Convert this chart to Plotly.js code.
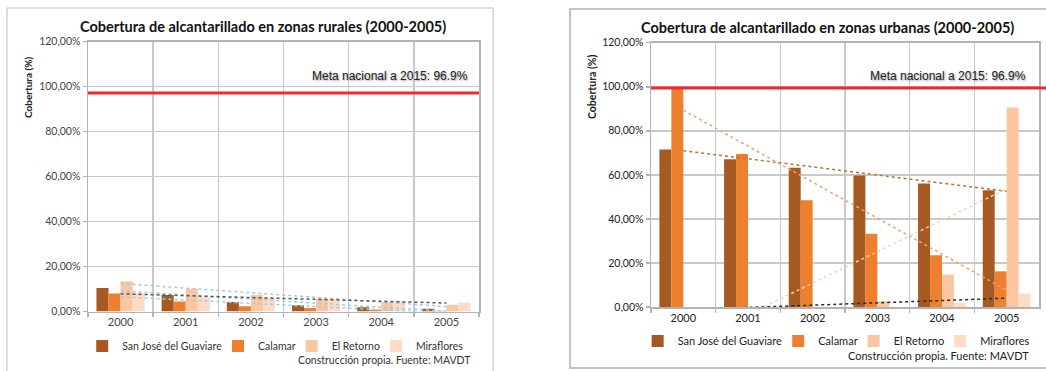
<!DOCTYPE html>
<html>
<head>
<meta charset="utf-8">
<script src="https://cdn.plot.ly/plotly-3.0.1.min.js"></script>
<style>
  html, body { margin: 0; padding: 0; background: #ffffff; }
  #chart { width: 1046px; height: 371px; }
</style>
</head>
<body>
<div id="chart"></div>
<script>
// ---------- data ----------
const years = ['2000', '2001', '2002', '2003', '2004', '2005'];
const seriesNames = ['San José del Guaviare', 'Calamar', 'El Retorno', 'Miraflores'];

// Rural coverage (%)
const ruralSanJose   = [10.4, 7.3, 4.2, 2.8, 1.9, 1.2];
const ruralCalamar   = [8.0, 4.5, 2.3, 1.6, 0.8, 0.3];
const ruralRetorno   = [13.5, 10.1, 7.4, 5.7, 4.2, 3.0];
const ruralMiraflores = [8.3, 6.5, 6.2, 5.5, 4.3, 4.0];

// Urban coverage (%)
const urbanSanJose   = [71.5, 67.1, 63.2, 59.7, 56.1, 53.0];
const urbanCalamar   = [100.0, 69.5, 48.5, 33.3, 23.5, 16.2];
const urbanRetorno   = [0, 0, 0, 2.6, 14.7, 90.6];
const urbanMiraflores = [0, 0, 0, 0, 2.0, 6.2];

// National target line (as drawn)
const metaRural = 97.2;
const metaUrbana = 99.4;
const metaLabel = 'Meta nacional a 2015: 96.9%';

const yTickVals = [0, 20, 40, 60, 80, 100, 120];
const yTickText = ['0,00%', '20,00%', '40,00%', '60,00%', '80,00%', '100,00%', '120,00%'];

const titleRural = 'Cobertura de alcantarillado en zonas rurales (2000-2005)';
const titleUrbana = 'Cobertura de alcantarillado en zonas urbanas (2000-2005)';
const yTitle = 'Cobertura (%)';
const sourceText = 'Construcción propia. Fuente: MAVDT';

// ---------- styles ----------
const barColors = ['#a65a22', '#ee7f2f', '#fcc6a0', '#fddcc6'];
const ruralTrendColors = ['#9fcbe0', '#9fcbe0', '#9fcbe0', '#555555'];
const urbanTrendColors = ['#b8703f', '#f3a06a', '#fcd0b0', '#2a2a2a'];
const W = 1046, H = 371;
const px = v => v / W;
const py = v => 1 - v / H;
const FONT = 'Lato, "Open Sans", sans-serif';

function linTrend(vals) {
  const n = vals.length;
  const xs = vals.map((_, i) => i);
  const mx = xs.reduce((a, b) => a + b, 0) / n;
  const my = vals.reduce((a, b) => a + b, 0) / n;
  let sxy = 0, sxx = 0;
  for (let i = 0; i < n; i++) { sxy += (xs[i] - mx) * (vals[i] - my); sxx += (xs[i] - mx) ** 2; }
  const b = sxy / sxx, a = my - b * mx;
  return xs.map(x => a + b * x);
}

const ruralSets = [ruralSanJose, ruralCalamar, ruralRetorno, ruralMiraflores];
const urbanSets = [urbanSanJose, urbanCalamar, urbanRetorno, urbanMiraflores];
const legendId = k => (k === 0 ? 'legend' : 'legend' + (k + 1));

const traces = [];
ruralSets.forEach((vals, i) => {
  traces.push({
    type: 'bar', x: years, y: vals, name: seriesNames[i],
    marker: { color: barColors[i] }, xaxis: 'x', yaxis: 'y',
    legend: legendId(i), hoverinfo: 'x+y+name'
  });
});
urbanSets.forEach((vals, i) => {
  traces.push({
    type: 'bar', x: years, y: vals, name: seriesNames[i],
    marker: { color: barColors[i] }, xaxis: 'x2', yaxis: 'y2',
    legend: legendId(i + 4), hoverinfo: 'x+y+name'
  });
});
ruralSets.forEach((vals, i) => {
  traces.push({
    type: 'scatter', mode: 'lines', x: years, y: linTrend(vals),
    line: { color: ruralTrendColors[i], width: 1.5, dash: 'dot' },
    xaxis: 'x', yaxis: 'y', showlegend: false, hoverinfo: 'skip'
  });
});
urbanSets.forEach((vals, i) => {
  traces.push({
    type: 'scatter', mode: 'lines', x: years, y: linTrend(vals),
    line: { color: urbanTrendColors[i], width: 1.5, dash: 'dot' },
    xaxis: 'x2', yaxis: 'y2', showlegend: false, hoverinfo: 'skip'
  });
});

const gridColor = '#c9c9c9';
const lineColor = '#b3b3b3';
function xAxis(domain, anchor, fontColor) {
  return {
    domain: domain, anchor: anchor, type: 'category', range: [-0.5, 5.5],
    tickson: 'boundaries', showgrid: true, gridcolor: gridColor, gridwidth: 1.5,
    showline: true, linecolor: lineColor, linewidth: 1.5, mirror: true,
    ticks: 'outside', ticklen: 4, tickcolor: lineColor, tickwidth: 1.5,
    tickfont: { family: FONT, size: 11, color: fontColor }, fixedrange: true
  };
}
function yAxis(domain, anchor, fontColor) {
  return {
    domain: domain, anchor: anchor, range: [0, 120],
    tickvals: yTickVals, ticktext: yTickText,
    showgrid: true, gridcolor: gridColor, gridwidth: 1.5, zeroline: false,
    showline: true, linecolor: lineColor, linewidth: 1.5, mirror: true,
    ticks: 'outside', ticklen: 4, tickcolor: lineColor, tickwidth: 1.5,
    tickfont: { family: FONT, size: 10.5, color: fontColor }, fixedrange: true
  };
}

const layout = {
  width: W, height: H,
  margin: { l: 0, r: 0, t: 0, b: 0, autoexpand: false },
  paper_bgcolor: '#ffffff', plot_bgcolor: '#ffffff',
  showlegend: true,
  barmode: 'group', bargap: 0.26, bargroupgap: 0,
  xaxis: xAxis([px(88), px(479)], 'y', '#444'),
  yaxis: yAxis([1 - 311.5 / H, 1 - 41.7 / H], 'x', '#444'),
  xaxis2: xAxis([px(651), px(1039)], 'y2', '#222'),
  yaxis2: yAxis([1 - 307 / H, 1 - 42.7 / H], 'x2', '#222'),
  shapes: [
    // chart frames
    { type: 'rect', xref: 'paper', yref: 'paper', x0: px(7), x1: px(493), y0: py(380), y1: py(8),
      line: { color: '#d4d4d4', width: 1.5 }, layer: 'below' },
    { type: 'rect', xref: 'paper', yref: 'paper', x0: px(570), x1: px(1060), y0: py(368), y1: py(9),
      line: { color: '#c4c4c4', width: 2 }, layer: 'below' },
    // target lines
    { type: 'line', xref: 'x domain', yref: 'y', x0: 0, x1: 1, y0: metaRural, y1: metaRural,
      line: { color: '#ee2a2a', width: 3 } },
    { type: 'line', xref: 'x2 domain', yref: 'y2', x0: 0, x1: 1.02, y0: metaUrbana, y1: metaUrbana,
      line: { color: '#ee2a2a', width: 3 } }
  ],
  annotations: [
    { xref: 'paper', yref: 'paper', x: px(263), y: py(26), text: '<b>' + titleRural + '</b>',
      showarrow: false, xanchor: 'center', yanchor: 'middle',
      font: { family: FONT, size: 14.5, color: '#111' } },
    { xref: 'paper', yref: 'paper', x: px(827), y: py(27), text: '<b>' + titleUrbana + '</b>',
      showarrow: false, xanchor: 'center', yanchor: 'middle',
      font: { family: FONT, size: 14.5, color: '#111' } },
    { xref: 'paper', yref: 'paper', x: px(28), y: py(88), text: '<b>' + yTitle + '</b>',
      textangle: -90, showarrow: false, xanchor: 'center', yanchor: 'middle',
      font: { family: FONT, size: 10, color: '#222' } },
    { xref: 'paper', yref: 'paper', x: px(592), y: py(87), text: '<b>' + yTitle + '</b>',
      textangle: -90, showarrow: false, xanchor: 'center', yanchor: 'middle',
      font: { family: FONT, size: 10.5, color: '#222' } },
    { xref: 'paper', yref: 'paper', x: px(470), y: py(76), text: metaLabel,
      showarrow: false, xanchor: 'right', yanchor: 'middle',
      font: { family: '"Liberation Sans", Arial, sans-serif', size: 12, color: '#222', shadow: '1px 1px 2px #9a9a9a' } },
    { xref: 'paper', yref: 'paper', x: px(1028), y: py(76), text: metaLabel,
      showarrow: false, xanchor: 'right', yanchor: 'middle',
      font: { family: '"Liberation Sans", Arial, sans-serif', size: 12, color: '#222', shadow: '1px 1px 2px #9a9a9a' } },
    { xref: 'paper', yref: 'paper', x: px(473), y: py(360), text: sourceText,
      showarrow: false, xanchor: 'right', yanchor: 'middle',
      font: { family: FONT, size: 10.5, color: '#333' } },
    { xref: 'paper', yref: 'paper', x: px(1031), y: py(355), text: sourceText,
      showarrow: false, xanchor: 'right', yanchor: 'middle',
      font: { family: FONT, size: 11, color: '#222' } }
  ]
};

// ---------- legends: one single-entry legend per series, laid out in a row ----------
// Plotly draws the legend square from x+14 to x+26 and starts the text at x+41.
const SYMBOL_START = 14, TEXT_START = 41, ITEM_GAP = 9;
const measureCtx = document.createElement('canvas').getContext('2d');
function textWidth(t, size) { measureCtx.font = size + 'px Lato'; return measureCtx.measureText(t).width; }
function placeLegendRow(firstIdx, centerX, rowY, size, color) {
  const widths = seriesNames.map(n => (TEXT_START - SYMBOL_START) + textWidth(n, size));
  const total = widths.reduce((a, b) => a + b, 0) + ITEM_GAP * (widths.length - 1);
  let start = centerX - total / 2;
  widths.forEach((w, i) => {
    layout[legendId(firstIdx + i)] = {
      orientation: 'h', xanchor: 'left', yanchor: 'middle',
      x: px(start - SYMBOL_START), y: py(rowY),
      font: { family: FONT, size: size, color: color },
      itemwidth: 30, bgcolor: 'rgba(0,0,0,0)'
    };
    start += w + ITEM_GAP;
  });
}
placeLegendRow(0, 280, 346, 10.5, '#333');
placeLegendRow(4, 841, 341, 11, '#222');

Plotly.newPlot('chart', traces, layout, { displayModeBar: false, staticPlot: true });
</script>
</body>
</html>
